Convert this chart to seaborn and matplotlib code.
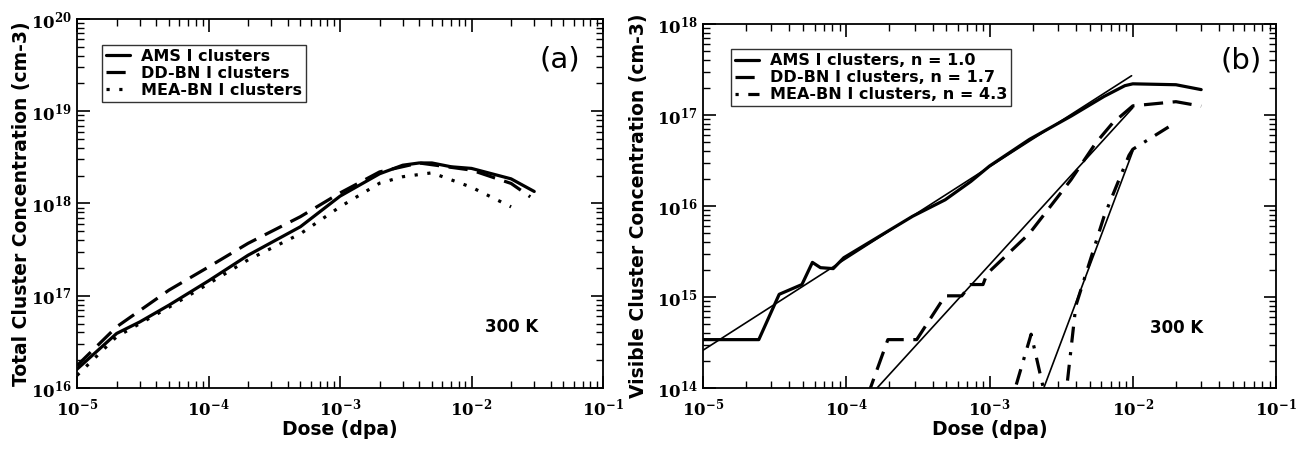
import numpy as np
import pandas as pd
import seaborn as sns
import matplotlib.pyplot as plt
from matplotlib.ticker import LogLocator, LogFormatterMathtext, NullFormatter

# ---- datos panel (a): concentracion total ----
dosis_ams_a = [1e-5, 2e-5, 3e-5, 5e-5, 1e-4, 2e-4, 5e-4, 1e-3, 2e-3, 3e-3, 4e-3, 5e-3, 7e-3, 1e-2, 2e-2, 3e-2]
conc_ams_a = [1.6e16, 3.9e16, 5.2e16, 7.9e16, 1.45e17, 2.75e17, 5.6e17, 1.2e18, 2.1e18, 2.6e18, 2.75e18, 2.75e18, 2.5e18, 2.4e18, 1.85e18, 1.35e18]

dosis_dd_a = [1e-5, 2e-5, 5e-5, 1e-4, 2e-4, 5e-4, 1e-3, 2e-3, 4e-3, 1e-2, 2e-2, 2.8e-2]
conc_dd_a = [1.75e16, 4.6e16, 1.15e17, 2.05e17, 3.7e17, 7.2e17, 1.3e18, 2.2e18, 2.75e18, 2.3e18, 1.65e18, 1.18e18]

dosis_mea_a = [1e-5, 2e-5, 5e-5, 1e-4, 2e-4, 5e-4, 1e-3, 2e-3, 3e-3, 5e-3, 1e-2, 2e-2]
conc_mea_a = [1.37e16, 3.6e16, 7.5e16, 1.35e17, 2.45e17, 4.7e17, 9.2e17, 1.66e18, 1.95e18, 2.15e18, 1.5e18, 9.2e17]

# ---- datos panel (b): concentracion visible ----
dosis_ams_b = [1e-5, 2.45e-5, 3.4e-5, 4.9e-5, 5.8e-5, 6.6e-5, 8.1e-5, 9.6e-5, 2.9e-4, 4.9e-4, 7.4e-4, 1e-3, 1.9e-3, 3.7e-3, 6.3e-3, 8.8e-3, 1e-2, 2e-2, 3e-2]
conc_ams_b = [3.4e14, 3.4e14, 1.07e15, 1.37e15, 2.4e15, 2.1e15, 2.05e15, 2.7e15, 7.7e15, 1.17e16, 1.86e16, 2.75e16, 5.4e16, 9.7e16, 1.6e17, 2.1e17, 2.2e17, 2.15e17, 1.9e17]

dosis_dd_b = [1.4e-4, 1.95e-4, 3.1e-4, 4.9e-4, 6.4e-4, 7.4e-4, 9.0e-4, 9.6e-4, 1.9e-3, 3.7e-3, 5.5e-3, 7.2e-3, 1e-2, 2e-2, 3e-2]
conc_dd_b = [8e13, 3.4e14, 3.4e14, 1.03e15, 1.03e15, 1.37e15, 1.37e15, 1.8e15, 5.0e15, 1.94e16, 4.9e16, 8.1e16, 1.26e17, 1.4e17, 1.25e17]

dosis_mea_b = [1.45e-3, 1.95e-3, 2.45e-3, 3.4e-3, 4e-3, 6.3e-3, 9.4e-3, 1e-2, 2e-2]
conc_mea_b = [8e13, 3.9e14, 8e13, 8e13, 8e14, 7.7e15, 3.6e16, 4.2e16, 8.3e16]

# rectas de ajuste (extremos)
ajuste_ams_x = [1e-5, 9.8e-3]
ajuste_ams_y = [2.6e14, 2.7e17]
ajuste_dd_x = [1.64e-4, 1e-2]
ajuste_dd_y = [1e14, 1.2e17]
ajuste_mea_x = [2.39e-3, 1e-2]
ajuste_mea_y = [1e14, 4e16]

sns.set_theme(style="ticks")
plt.rcParams['font.family'] = ['DejaVu Sans']
plt.rcParams['font.weight'] = 'bold'
plt.rcParams['axes.labelweight'] = 'bold'
plt.rcParams['text.color'] = 'black'
plt.rcParams['axes.labelcolor'] = 'black'

fig = plt.figure(figsize=(13.08, 4.5), dpi=100)
ax1 = fig.add_axes([0.0589, 0.1378, 0.4021, 0.82])
ax2 = fig.add_axes([0.5375, 0.1378, 0.4381, 0.8089])


def tabla(x, y, nombre):
    return pd.DataFrame({"dosis": x, "conc": y, "serie": nombre})


# ---- panel (a) ----
df_a = pd.concat([
    tabla(dosis_ams_a, conc_ams_a, "AMS I clusters"),
    tabla(dosis_dd_a, conc_dd_a, "DD-BN I clusters"),
    tabla(dosis_mea_a, conc_mea_a, "MEA-BN I clusters"),
])
estilos_a = {"AMS I clusters": "-", "DD-BN I clusters": (0, (6, 3)), "MEA-BN I clusters": (0, (1, 3))}
for nombre, grupo in df_a.groupby("serie", sort=False):
    sns.lineplot(data=grupo, x="dosis", y="conc", ax=ax1, color="black", lw=2.3,
                 linestyle=estilos_a[nombre], label=nombre, sort=False)

# ---- panel (b) ----
df_b = pd.concat([
    tabla(dosis_ams_b, conc_ams_b, "AMS I clusters, n = 1.0"),
    tabla(dosis_dd_b, conc_dd_b, "DD-BN I clusters, n = 1.7"),
    tabla(dosis_mea_b, conc_mea_b, "MEA-BN I clusters, n = 4.3"),
])
estilos_b = {"AMS I clusters, n = 1.0": "-",
             "DD-BN I clusters, n = 1.7": (0, (6, 3)),
             "MEA-BN I clusters, n = 4.3": (0, (1, 3, 5, 3))}
for nombre, grupo in df_b.groupby("serie", sort=False):
    sns.lineplot(data=grupo, x="dosis", y="conc", ax=ax2, color="black", lw=2.3,
                 linestyle=estilos_b[nombre], label=nombre, sort=False)

for fx, fy in [(ajuste_ams_x, ajuste_ams_y), (ajuste_dd_x, ajuste_dd_y), (ajuste_mea_x, ajuste_mea_y)]:
    ax2.plot(fx, fy, color="black", lw=1.2)

# ---- formato comun ----
for ax in (ax1, ax2):
    ax.set_xscale("log")
    ax.set_yscale("log")
    ax.set_xlim(1e-5, 1e-1)
    ax.xaxis.set_major_locator(LogLocator(base=10, numticks=10))
    ax.xaxis.set_minor_locator(LogLocator(base=10, subs=np.arange(2, 10), numticks=20))
    ax.yaxis.set_major_locator(LogLocator(base=10, numticks=10))
    ax.yaxis.set_minor_locator(LogLocator(base=10, subs=np.arange(2, 10), numticks=20))
    ax.xaxis.set_major_formatter(LogFormatterMathtext())
    ax.yaxis.set_major_formatter(LogFormatterMathtext())
    ax.xaxis.set_minor_formatter(NullFormatter())
    ax.yaxis.set_minor_formatter(NullFormatter())
    ax.tick_params(which="both", direction="in", top=True, right=True, colors="black")
    ax.tick_params(which="major", length=9, width=1.2, labelsize=12, pad=4,
                   labelfontfamily="DejaVu Serif")
    ax.tick_params(axis="x", which="major", pad=7)
    ax.tick_params(which="minor", length=5, width=1.0)
    for s in ax.spines.values():
        s.set_color("black")
        s.set_linewidth(1.3)
    ax.set_xlabel("Dose (dpa)", fontsize=13.5, labelpad=0)
    ax.text(0.827, 0.165, "300 K", transform=ax.transAxes, fontsize=12, ha="center", va="center")
    leg = ax.legend(loc="upper left", bbox_to_anchor=(0.048, 0.93), fontsize=11.5, frameon=True,
                    fancybox=False, edgecolor="black", handlelength=1.5, borderpad=0.25,
                    labelspacing=0.12, handletextpad=0.7, borderaxespad=0)
    leg.get_frame().set_linewidth(1.0)
    for t in leg.get_texts():
        t.set_color("black")

ax1.set_ylim(1e16, 1e20)
ax2.set_ylim(1e14, 1e18)
ax1.set_ylabel("Total Cluster Concentration (cm-3)", fontsize=13.5)
ax2.set_ylabel("Visible Cluster Concentration (cm-3)", fontsize=13.5)
ax1.yaxis.set_label_coords(-0.087, 0.5)
ax2.yaxis.set_label_coords(-0.096, 0.5)
ax1.text(0.918, 0.889, "(a)", transform=ax1.transAxes, fontsize=21, fontweight="normal",
         ha="center", va="center")
ax2.text(0.939, 0.90, "(b)", transform=ax2.transAxes, fontsize=21, fontweight="normal",
         ha="center", va="center")

plt.savefig("out.png", dpi=100)
plt.close()
